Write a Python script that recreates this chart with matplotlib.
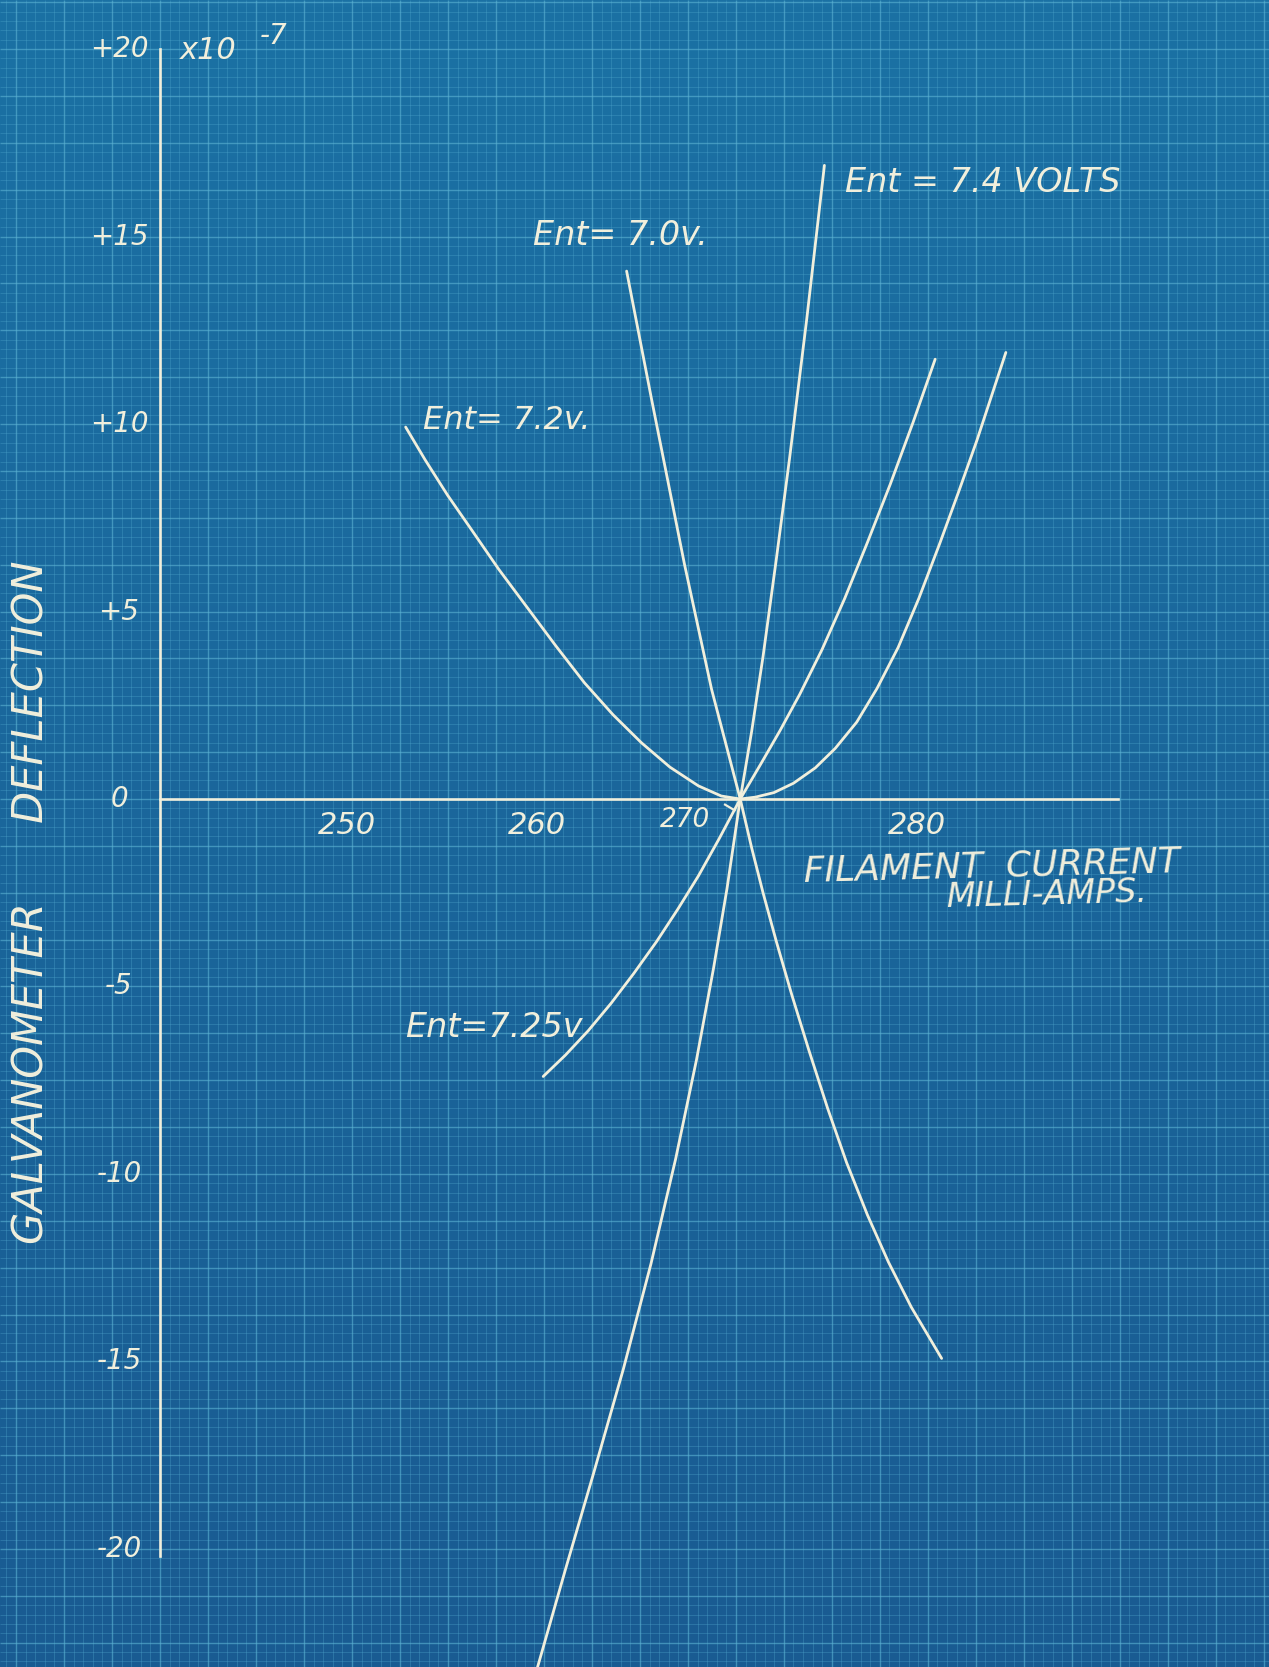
import numpy as np
import matplotlib
matplotlib.use("Agg")
import matplotlib.pyplot as plt
from matplotlib.colors import LinearSegmentedColormap

# Galvanometer deflection (x10^-7) vs filament current (milli-amps),
# read off the blueprint for each plate voltage E_nt
i_74 = [275.13, 274.2, 273.3, 272.6, 271.9, 271.3, 270.7, 270.0, 269.3,
        268.4, 267.3, 266.0, 264.55, 263.0, 261.5, 259.95]
d_74 = [16.9, 12.8, 9.1, 6.4, 3.8, 1.8, 0.0, -2.4, -4.5,
        -6.95, -9.6, -12.4, -15.2, -17.95, -20.55, -23.3]

i_70 = [264.72, 266.03, 267.77, 269.19, 270.7, 271.3, 271.9, 272.6, 273.4,
        274.3, 275.3, 276.3, 277.4, 278.5, 279.7, 281.3]
d_70 = [14.08, 10.67, 6.25, 2.93, 0.0, -1.3, -2.5, -3.8, -5.2,
        -6.68, -8.25, -9.7, -11.1, -12.35, -13.55, -14.92]

i_72 = [253.09, 254.11, 255.3, 256.6, 258.0, 259.5, 261.0, 262.5, 264.0,
        265.5, 267.0, 268.5, 269.7, 270.7, 271.5, 272.47, 273.5, 274.65,
        275.7, 276.83, 277.9, 279.01, 280.1, 281.19, 282.2, 283.16, 284.68]
d_72 = [9.92, 9.05, 8.1, 7.15, 6.12, 5.1, 4.08, 3.1, 2.25,
        1.5, 0.85, 0.35, 0.08, 0.0, 0.05, 0.17, 0.42, 0.83,
        1.35, 2.05, 2.95, 4.04, 5.35, 6.8, 8.2, 9.57, 11.91]

i_725 = [260.33, 261.5, 262.7, 263.9, 265.1, 266.3, 267.4, 268.5, 269.6,
         270.7, 271.8, 272.8, 273.84, 275.0, 276.2, 277.4, 278.6, 279.8, 280.96]
d_725 = [-7.4, -6.83, -6.18, -5.45, -4.65, -3.8, -2.95, -2.05, -1.05,
         0.0, 0.95, 1.83, 2.8, 3.98, 5.35, 6.85, 8.4, 10.05, 11.73]

x_ticks = [250, 260, 270, 280]
x_tick_labels = ["250", "260", "270", "280"]
y_ticks = [20, 15, 10, 5, 0, -5, -10, -15, -20]
y_tick_labels = ["+20", "+15", "+10", "+5", "0", "-5", "-10", "-15", "-20"]

curve_labels = ["Ent = 7.4 VOLTS", "Ent= 7.0v.", "Ent= 7.2v.", "Ent=7.25v"]

INK = "#f1efdc"
FONT = dict(family="DejaVu Sans", style="oblique", color=INK)

fig = plt.figure(figsize=(12.69, 16.67), dpi=100)
ax = fig.add_axes([0, 0, 1, 1])
xlim = (231.74, 298.53)
ylim = (-23.15, 21.31)
ax.set_xlim(*xlim)
ax.set_ylim(*ylim)
ax.axis("off")

# blueprint paper: slight top-to-bottom tone change
paper = LinearSegmentedColormap.from_list("paper", ["#195b92", "#1b71a4"])
ax.imshow(np.linspace(0, 1, 256).reshape(-1, 1), extent=[*xlim, *ylim],
          aspect="auto", cmap=paper, origin="lower", zorder=0)

# paper grid (48 px squares, 5 subdivisions)
x0, dx = 240.16, 2.526
y0, dy = 0.0, 1.25
kx = np.arange(-60, 200)
ky = np.arange(-100, 100)
xs = x0 + dx / 5 * kx
ys = y0 + dy / 5 * ky
inx = (xs > xlim[0]) & (xs < xlim[1])
iny = (ys > ylim[0]) & (ys < ylim[1])
major_x = (kx % 5 == 0)
major_y = (ky % 5 == 0)
ax.vlines(xs[inx & ~major_x], *ylim, color="#4fa6cc", lw=0.6, alpha=0.4, zorder=1)
ax.hlines(ys[iny & ~major_y], *xlim, color="#4fa6cc", lw=0.6, alpha=0.4, zorder=1)
ax.vlines(xs[inx & major_x], *ylim, color="#5db4d4", lw=1.0, alpha=0.6, zorder=1)
ax.hlines(ys[iny & major_y], *xlim, color="#5db4d4", lw=1.0, alpha=0.6, zorder=1)

# hand-drawn axes
ax.plot([240.16, 240.16], [-20.2, 20.0], color=INK, lw=1.9, zorder=3)
ax.plot([240.16, 290.6], [0, 0], color=INK, lw=1.9, zorder=3)

# curves
for xi, yi in [(i_74, d_74), (i_70, d_70), (i_72, d_72), (i_725, d_725)]:
    ax.plot(xi, yi, color=INK, lw=2.0, solid_capstyle="round",
            solid_joinstyle="round", zorder=4)

# tick labels
for v, lab in zip(x_ticks, x_tick_labels):
    if v == 270:
        ax.text(267.8, -0.55, lab, fontsize=19, ha="center", va="center", **FONT)
    else:
        ax.text(v, -0.7, lab, fontsize=22, ha="center", va="center", **FONT)
ax.plot([269.9, 270.4], [-0.15, -0.3], color=INK, lw=1.6, zorder=4)
for v, lab in zip(y_ticks, y_tick_labels):
    ax.text(238.0, v, lab, fontsize=20, ha="center", va="center", **FONT)

ax.text(241.2, 19.95, "x10", fontsize=22, ha="left", va="center", **FONT)
ax.text(245.4, 20.35, "-7", fontsize=20, ha="left", va="center", **FONT)

# curve labels
ax.text(276.2, 16.45, curve_labels[0], fontsize=24, ha="left", va="center", **FONT)
ax.text(259.8, 15.04, curve_labels[1], fontsize=24, ha="left", va="center", **FONT)
ax.text(254.0, 10.1, curve_labels[2], fontsize=23, ha="left", va="center", **FONT)
ax.text(253.05, -6.1, curve_labels[3], fontsize=24, ha="left", va="center", **FONT)

# axis titles
ax.text(274.0, -1.79, "FILAMENT  CURRENT", fontsize=26, ha="left", va="center",
        rotation=1.5, **FONT)
ax.text(281.5, -2.55, "MILLI-AMPS.", fontsize=24, ha="left", va="center",
        rotation=1.5, **FONT)
ax.text(233.4, -2.75, "GALVANOMETER      DEFLECTION", fontsize=30, ha="center",
        va="center", rotation=90, **FONT)

fig.savefig("out.png", dpi=100)
